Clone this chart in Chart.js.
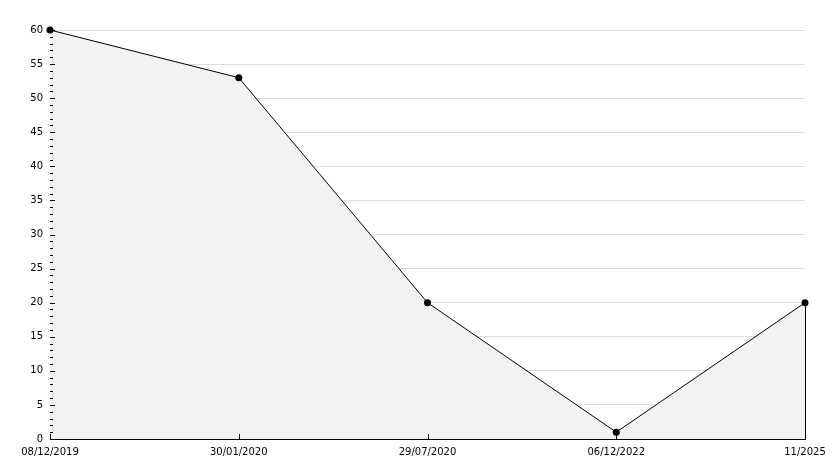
<!DOCTYPE html>
<html>
<head>
<meta charset="utf-8">
<script src="https://cdn.jsdelivr.net/npm/chart.js@4"></script>
<style>
  html, body { margin: 0; padding: 0; background: #fff; }
  #wrap { width: 834px; height: 468px; }
</style>
</head>
<body>
<div id="wrap"><canvas id="myChart" width="834" height="468"></canvas></div>
<script>
const dates = ['08/12/2019', '30/01/2020', '29/07/2020', '06/12/2022', '11/2025'];
const counts = [60, 53, 20, 1, 20];
const yMin = 0, yMax = 60, yStep = 5;

// inner tick marks + closing edge of the filled area
const axisMarks = {
    id: 'axisMarks',
    afterDatasetsDraw(chart) {
        const ctx = chart.ctx;
        const x = chart.scales.x, y = chart.scales.y;
        ctx.save();
        ctx.strokeStyle = '#000';
        ctx.lineWidth = 1;
        ctx.beginPath();
        for (let v = yMin; v <= yMax; v++) {
            const py = Math.round(y.getPixelForValue(v)) + 0.5;
            const len = v % yStep === 0 ? 5 : 3;
            ctx.moveTo(x.left, py);
            ctx.lineTo(x.left + len, py);
        }
        dates.forEach((d, i) => {
            const px = Math.round(x.getPixelForValue(i)) + 0.5;
            ctx.moveTo(px, y.bottom);
            ctx.lineTo(px, y.bottom - 5);
        });
        const last = counts.length - 1;
        const lx = Math.round(x.getPixelForValue(last)) + 0.5;
        ctx.moveTo(lx, y.getPixelForValue(counts[last]));
        ctx.lineTo(lx, y.bottom);
        ctx.stroke();
        ctx.restore();
    }
};

const ctx = document.getElementById('myChart').getContext('2d');
const myChart = new Chart(ctx, {
    type: 'line',
    data: {
        labels: dates,
        datasets: [{
            data: counts,
            borderColor: '#000',
            borderWidth: 1,
            backgroundColor: 'rgb(242,242,242)',
            fill: 'origin',
            tension: 0,
            clip: false,
            pointRadius: 3.5,
            pointHoverRadius: 3.5,
            pointBackgroundColor: '#000',
            pointBorderColor: '#000',
            pointBorderWidth: 0
        }]
    },
    plugins: [axisMarks],
    options: {
        responsive: false,
        animation: false,
        layout: { padding: { top: 30, right: 29, left: 0, bottom: 0 } },
        plugins: {
            legend: { display: false },
            tooltip: { enabled: false }
        },
        scales: {
            x: {
                offset: false,
                grid: { display: false, drawTicks: false },
                border: { color: '#000', width: 1 },
                ticks: {
                    color: '#000',
                    font: { family: 'DejaVu Sans', size: 10 },
                    padding: 7,
                    maxRotation: 0,
                    autoSkip: false
                },
                afterFit(scale) { scale.height = 29; }
            },
            y: {
                min: yMin,
                max: yMax,
                grid: { color: '#dddddd', drawTicks: false },
                border: { color: '#000', width: 1 },
                ticks: {
                    stepSize: yStep,
                    color: '#000',
                    font: { family: 'DejaVu Sans', size: 10 },
                    padding: 7
                },
                afterFit(scale) { scale.width = 50; }
            }
        }
    }
});
</script>
</body>
</html>
